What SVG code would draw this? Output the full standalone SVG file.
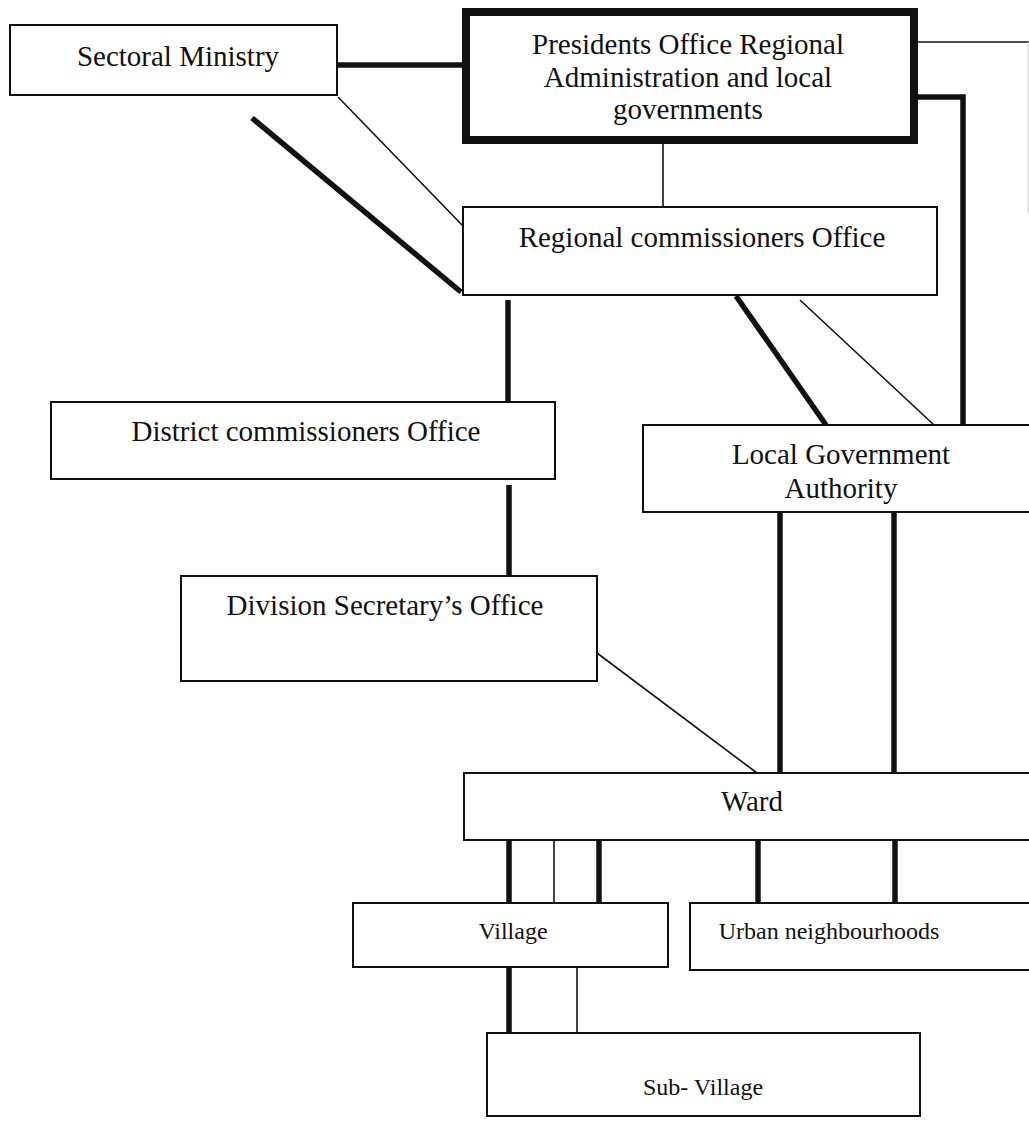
<svg xmlns="http://www.w3.org/2000/svg" width="1029" height="1121" viewBox="0 0 1029 1121">
<style>
.box{fill:#fff;stroke:#111;stroke-width:2}
.bold{fill:#fff;stroke:#111;stroke-width:8}
.thin{stroke:#111;stroke-width:1.6;fill:none}
.thick{stroke:#111;stroke-width:5.5;fill:none}
.faint{stroke:#ccc;stroke-width:1;fill:none}
text{font-family:"Liberation Serif","Times New Roman",serif;fill:#111;text-anchor:middle}
.big{font-size:29px}
.small{font-size:24px}
</style>
<rect width="1029" height="1121" fill="#fff"/>
<g id="connectors">
<line class="thick" x1="337" y1="65" x2="464" y2="65"/>
<line class="thin" x1="918" y1="42" x2="1029" y2="42"/>
<line class="faint" x1="1028" y1="42" x2="1028" y2="213"/>
<polyline class="thick" points="918,97 963,97 963,426"/>
<line class="thin" x1="663" y1="143" x2="663" y2="207"/>
<line class="thin" x1="338" y1="97" x2="463" y2="226"/>
<line class="thick" x1="252" y1="118" x2="461" y2="292"/>
<line class="thick" x1="508" y1="300" x2="508" y2="407"/>
<line class="thick" x1="509" y1="485" x2="509" y2="576"/>
<line class="thick" x1="736" y1="296" x2="826" y2="425"/>
<line class="thin" x1="800" y1="300" x2="934" y2="425"/>
<line class="thin" x1="597" y1="653" x2="757" y2="773"/>
<line class="thick" x1="780" y1="512" x2="780" y2="774"/>
<line class="thick" x1="894" y1="512" x2="894" y2="774"/>
<line class="thick" x1="509" y1="840" x2="509" y2="903"/>
<line class="thin" x1="554" y1="840" x2="554" y2="903"/>
<line class="thick" x1="599" y1="840" x2="599" y2="903"/>
<line class="thick" x1="758" y1="840" x2="758" y2="903"/>
<line class="thick" x1="895" y1="840" x2="895" y2="903"/>
<line class="thick" x1="509" y1="967" x2="509" y2="1033"/>
<line class="thin" x1="577" y1="967" x2="577" y2="1033"/>
</g>
<g id="sectoral-ministry">
<rect class="box" x="10" y="25" width="327" height="70"/>
<text class="big" x="178" y="66">Sectoral Ministry</text>
</g>
<g id="presidents-office">
<rect class="bold" x="466" y="12" width="448" height="128"/>
<text class="big" x="688" y="54">Presidents Office Regional</text>
<text class="big" x="688" y="87">Administration and local</text>
<text class="big" x="688" y="119">governments</text>
</g>
<g id="regional-commissioners">
<rect class="box" x="463" y="207" width="474" height="88"/>
<text class="big" x="702" y="247">Regional commissioners Office</text>
</g>
<g id="district-commissioners">
<rect class="box" x="51" y="402" width="504" height="77"/>
<text class="big" x="306" y="441">District commissioners Office</text>
</g>
<g id="division-secretary">
<rect class="box" x="181" y="576" width="416" height="105"/>
<text class="big" x="385" y="615">Division Secretary’s Office</text>
</g>
<g id="local-government-authority">
<rect class="box" x="643" y="425" width="400" height="87"/>
<text class="big" x="841" y="464">Local Government</text>
<text class="big" x="841" y="498">Authority</text>
</g>
<g id="ward">
<rect class="box" x="464" y="773" width="580" height="67"/>
<text class="big" x="752" y="811">Ward</text>
</g>
<g id="village">
<rect class="box" x="353" y="903" width="315" height="64"/>
<text class="small" x="513" y="939">Village</text>
</g>
<g id="urban-neighbourhoods">
<rect class="box" x="690" y="903" width="354" height="67"/>
<text class="small" x="829" y="939">Urban neighbourhoods</text>
</g>
<g id="sub-village">
<rect class="box" x="487" y="1033" width="433" height="83"/>
<text class="small" x="703" y="1095">Sub- Village</text>
</g>
</svg>
